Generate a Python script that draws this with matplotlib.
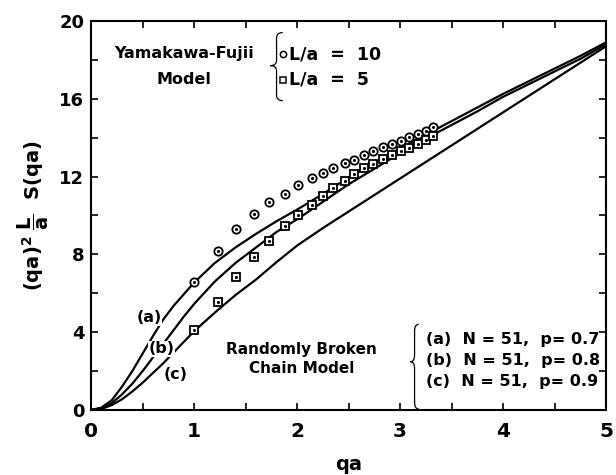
import numpy as np
import matplotlib
matplotlib.use("Agg")
import matplotlib.pyplot as plt
from matplotlib.path import Path
from matplotlib.patches import PathPatch

plt.rcParams['font.family'] = ['DejaVu Sans']
plt.rcParams['font.weight'] = 'bold'
plt.rcParams['axes.labelweight'] = 'bold'
plt.rcParams['mathtext.fontset'] = 'custom'
plt.rcParams['mathtext.rm'] = 'DejaVu Sans:bold'
plt.rcParams['mathtext.it'] = 'DejaVu Sans:bold'
plt.rcParams['mathtext.bf'] = 'DejaVu Sans:bold'

# simulation points (Yamakawa-Fujii model)
qa_pts = [1.0, 1.23, 1.41, 1.58, 1.73, 1.88, 2.01, 2.14, 2.25, 2.35, 2.46,
          2.55, 2.65, 2.74, 2.83, 2.92, 3.01, 3.09, 3.17, 3.25, 3.32]
yf_L10 = [6.57, 8.17, 9.29, 10.09, 10.71, 11.12, 11.57, 11.91, 12.2, 12.46, 12.72,
          12.87, 13.13, 13.33, 13.5, 13.68, 13.85, 14.02, 14.17, 14.36, 14.53]
yf_L5 = [4.11, 5.57, 6.84, 7.88, 8.69, 9.43, 10.0, 10.52, 11.0, 11.43, 11.79,
         12.13, 12.44, 12.66, 12.9, 13.11, 13.32, 13.47, 13.66, 13.88, 14.1]

# randomly broken chain curves
qa = [0, 0.1, 0.2, 0.3, 0.4, 0.5, 0.6, 0.7, 0.8, 0.9, 1.0, 1.2, 1.4, 1.6, 1.8,
      2.0, 2.25, 2.5, 2.75, 3.0, 3.25, 3.5, 3.75, 4.0, 4.25, 4.5, 4.75, 5.0]
curve_a = [0, 0.12, 0.5, 1.2, 2.0, 2.9, 3.8, 4.65, 5.35, 5.95, 6.55, 7.55, 8.35, 9.05, 9.7,
           10.3, 11.1, 11.95, 12.7, 13.45, 14.15, 14.85, 15.55, 16.25, 16.9, 17.55, 18.2, 18.9]
curve_b = [0, 0.08, 0.35, 0.8, 1.35, 2.0, 2.7, 3.4, 4.1, 4.8, 5.45, 6.6, 7.55, 8.35, 9.15,
           9.8, 10.7, 11.6, 12.4, 13.2, 13.95, 14.65, 15.35, 16.1, 16.75, 17.4, 18.05, 18.8]
curve_c = [0, 0.05, 0.25, 0.55, 0.95, 1.4, 1.9, 2.4, 2.95, 3.5, 4.05, 5.0, 5.9, 6.7, 7.6,
           8.45, 9.35, 10.2, 11.05, 11.9, 12.75, 13.6, 14.45, 15.3, 16.15, 17.0, 17.85, 18.7]

curve_labels = ['(a)', '(b)', '(c)']
curve_params = ['(a)  N = 51,  p= 0.7', '(b)  N = 51,  p= 0.8', '(c)  N = 51,  p= 0.9']


def brace(ax, x, y0, y1, w, ytip=None):
    # left-pointing curly brace drawn in data coordinates
    if ytip is None:
        ytip = (y0 + y1) / 2
    xm = x + w / 2
    h = y1 - y0
    verts = [(x + w, y1), (xm, y1), (xm, y1 - 0.08 * h),
             (xm, ytip + 0.08 * h),
             (xm, ytip), (x, ytip),
             (xm, ytip), (xm, ytip - 0.08 * h),
             (xm, y0 + 0.08 * h),
             (xm, y0), (x + w, y0)]
    codes = [Path.MOVETO, Path.CURVE3, Path.CURVE3,
             Path.LINETO,
             Path.CURVE3, Path.CURVE3,
             Path.CURVE3, Path.CURVE3,
             Path.LINETO,
             Path.CURVE3, Path.CURVE3]
    ax.add_patch(PathPatch(Path(verts, codes), fill=False, lw=0.9, color='black'))


fig = plt.figure(figsize=(6.16, 4.75), dpi=100)
ax = fig.add_axes([0.148, 0.137, 0.836, 0.819])

for ys in [curve_a, curve_b, curve_c]:
    ax.plot(qa, ys, color='black', lw=1.6, zorder=2)

ax.plot(qa_pts, yf_L10, 'o', ms=6, mfc='white', mec='black', mew=1.3, zorder=3)
ax.plot(qa_pts, yf_L10, '.', ms=2.5, color='black', zorder=4)
ax.plot(qa_pts, yf_L5, 's', ms=5.5, mfc='white', mec='black', mew=1.3, zorder=3)
ax.plot(qa_pts, yf_L5, '.', ms=2.5, color='black', zorder=4)

# curve labels
for lab, (lx, ly) in zip(curve_labels, [(0.56, 4.75), (0.68, 3.15), (0.82, 1.8)]):
    ax.text(lx, ly, lab, fontsize=11.5, ha='center', va='center', zorder=5,
            bbox=dict(facecolor='white', edgecolor='none', pad=0.3))

# Yamakawa-Fujii legend
ax.text(0.9, 18.3, 'Yamakawa-Fujii', fontsize=11.5, ha='center', va='center')
ax.text(0.9, 16.97, 'Model', fontsize=11.5, ha='center', va='center')
brace(ax, 1.74, 15.9, 19.4, 0.12, ytip=17.7)
ax.plot([1.86], [18.29], 'o', ms=4.5, mfc='white', mec='black', mew=1.1)
ax.plot([1.86], [16.97], 's', ms=4.5, mfc='white', mec='black', mew=1.1)
ax.text(1.92, 18.29, 'L/a  =  10', fontsize=12.5, ha='left', va='center')
ax.text(1.92, 16.97, 'L/a  =  5', fontsize=12.5, ha='left', va='center')

# broken chain legend
ax.text(2.04, 3.1, 'Randomly Broken', fontsize=11, ha='center', va='center')
ax.text(2.04, 2.13, 'Chain Model', fontsize=11, ha='center', va='center')
brace(ax, 3.1, 0.05, 4.4, 0.08, ytip=2.48)
for txt, ty in zip(curve_params, [3.6, 2.55, 1.45]):
    ax.text(3.25, ty, txt, fontsize=11.5, ha='left', va='center')

ax.set_xlim(0, 5)
ax.set_ylim(0, 20)
ax.set_xticks(np.arange(0, 6, 1))
ax.set_xticks(np.arange(0, 5.01, 0.5), minor=True)
ax.set_yticks(np.arange(0, 21, 4))
ax.set_yticks(np.arange(0, 21, 2), minor=True)
ax.tick_params(which='both', direction='in', top=True, right=True, length=5, width=1.2)
ax.tick_params(axis='x', labelsize=14.5, pad=9)
ax.tick_params(axis='y', labelsize=13, pad=5)
for s in ax.spines.values():
    s.set_linewidth(1.5)

ax.set_xlabel('qa', fontsize=14, labelpad=10)
ax.set_ylabel(r'$(qa)^2\ \dfrac{L}{a}\ \ S(qa)$', fontsize=14, labelpad=6)

fig.savefig('out.png', dpi=100)
